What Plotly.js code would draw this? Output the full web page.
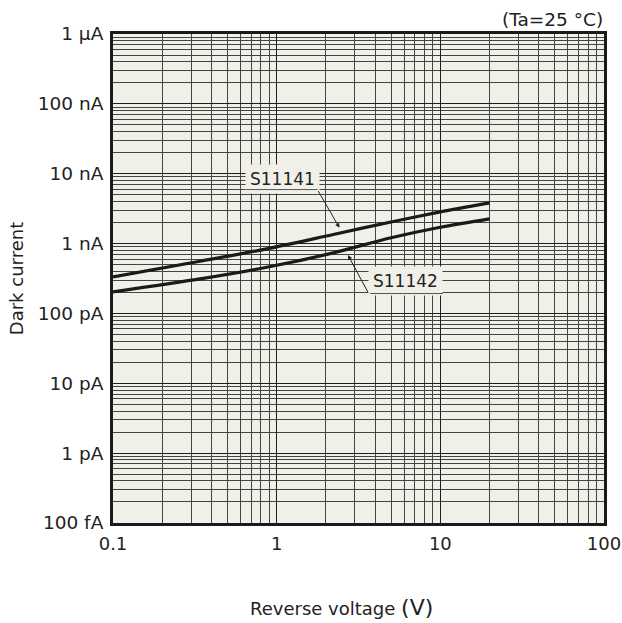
<!DOCTYPE html>
<html>
<head>
<meta charset="utf-8">
<script src="https://cdn.plot.ly/plotly-3.0.1.min.js"></script>
<style>html,body{margin:0;padding:0;background:#fff;}#chart{width:622px;height:623px;}</style>
</head>
<body>
<div id="chart"></div>
<script>
// Reverse voltage (V)
const voltsS11141 = [0.1, 0.34, 0.87, 2.22, 5, 10, 20];
const darkS11141  = [3.34e-10, 5.58e-10, 8.4e-10, 1.35e-9, 2.04e-9, 2.84e-9, 3.82e-9];
const voltsS11142 = [0.1, 0.34, 0.87, 2.22, 5, 10, 20];
const darkS11142  = [2.04e-10, 3.13e-10, 4.58e-10, 7.36e-10, 1.21e-9, 1.71e-9, 2.26e-9];
const seriesNames = ["S11141", "S11142"];
const xTickVals = [0.1, 1, 10, 100];
const xTickText = ["0.1", "1", "10", "100"];
const yTickVals = [1e-13, 1e-12, 1e-11, 1e-10, 1e-9, 1e-8, 1e-7, 1e-6];
const yTickText = ["100 fA", "1 pA", "10 pA", "100 pA", "1 nA", "10 nA", "100 nA", "1 µA"];

const FONT = "DejaVu Sans, Verdana, sans-serif";
const BG = "#f1f0e8";
const lineStyle = {color: "#1a1a1a", width: 3.2, shape: "spline", smoothing: 0.8};

const traces = [
  {x: voltsS11141, y: darkS11141, mode: "lines", name: seriesNames[0], line: lineStyle, hoverinfo: "skip"},
  {x: voltsS11142, y: darkS11142, mode: "lines", name: seriesNames[1], line: lineStyle, hoverinfo: "skip"}
];

const annotations = [
  // S11141 label
  {x: 0.035, y: -8.08, xref: "x", yref: "y", text: seriesNames[0], showarrow: false,
   font: {family: FONT, size: 17, color: "#222"}, bgcolor: BG, borderpad: 4},
  {x: 0.249, y: -8.227, ax: -0.198, ay: -8.227, xref: "x", yref: "y", axref: "x", ayref: "y",
   text: "", showarrow: true, arrowhead: 0, arrowwidth: 1, arrowcolor: "#555", standoff: 0, startstandoff: 0},
  {x: 0.39, y: -8.80, ax: 0.249, ay: -8.227, xref: "x", yref: "y", axref: "x", ayref: "y",
   text: "", showarrow: true, arrowhead: 2, arrowsize: 0.9, arrowwidth: 1, arrowcolor: "#222", standoff: 2},
  // S11142 label
  {x: 0.79, y: -9.53, xref: "x", yref: "y", text: seriesNames[1], showarrow: false,
   font: {family: FONT, size: 17, color: "#222"}, bgcolor: BG, borderpad: 4},
  {x: 1.015, y: -9.715, ax: 0.562, ay: -9.715, xref: "x", yref: "y", axref: "x", ayref: "y",
   text: "", showarrow: true, arrowhead: 0, arrowwidth: 1, arrowcolor: "#555", standoff: 0, startstandoff: 0},
  {x: 0.43, y: -9.14, ax: 0.562, ay: -9.715, xref: "x", yref: "y", axref: "x", ayref: "y",
   text: "", showarrow: true, arrowhead: 2, arrowsize: 0.9, arrowwidth: 1, arrowcolor: "#222", standoff: 2},
  // condition
  {x: 1, y: 1, xref: "paper", yref: "paper", xanchor: "right", yanchor: "bottom", yshift: 2, xshift: 1,
   text: "(Ta=25 °C)", showarrow: false, font: {family: FONT, size: 18.5, color: "#222"}},
  // x-axis title
  {x: 0.466, y: 0, xref: "paper", yref: "paper", xanchor: "center", yanchor: "top", yshift: -70,
   text: "Reverse voltage <span style='font-size:22px'>(V)</span>", showarrow: false,
   font: {family: FONT, size: 18, color: "#222"}}
];

const layout = {
  width: 622, height: 623,
  margin: {l: 113, r: 18, t: 34, b: 100},
  paper_bgcolor: "#ffffff",
  plot_bgcolor: BG,
  showlegend: false,
  font: {family: FONT, size: 18, color: "#222"},
  xaxis: {
    type: "log", range: [-1, 2],
    tickvals: xTickVals, ticktext: xTickText,
    ticks: "", ticklen: 0, ticklabelstandoff: 2,
    showgrid: true, gridcolor: "#1e1e1e", gridwidth: 1,
    minor: {dtick: "D1", showgrid: true, gridcolor: "#444", gridwidth: 1, ticks: ""},
    showline: true, linecolor: "#1a1a1a", linewidth: 3, mirror: true,
    zeroline: false,
    tickfont: {family: FONT, size: 18, color: "#222"}
  },
  yaxis: {
    type: "log", range: [-13, -6],
    tickvals: yTickVals, ticktext: yTickText,
    ticks: "", ticklen: 0, ticklabelstandoff: 3,
    showgrid: true, gridcolor: "#1e1e1e", gridwidth: 1,
    minor: {dtick: "D1", showgrid: true, gridcolor: "#444", gridwidth: 1, ticks: ""},
    showline: true, linecolor: "#1a1a1a", linewidth: 3, mirror: true,
    zeroline: false,
    tickfont: {family: FONT, size: 18.5, color: "#222"},
    title: {text: "Dark current", font: {family: FONT, size: 18, color: "#222"}, standoff: 10}
  },
  annotations: annotations
};

Plotly.newPlot("chart", traces, layout, {displayModeBar: false, staticPlot: true});
</script>
</body>
</html>
